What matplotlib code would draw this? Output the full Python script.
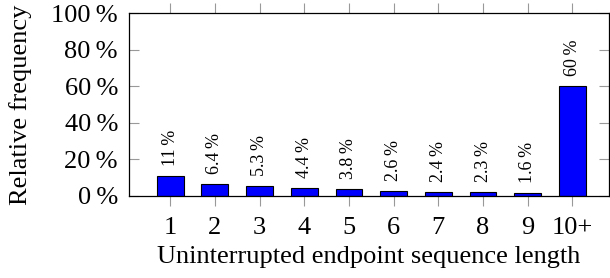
import matplotlib
matplotlib.use('Agg')
import matplotlib.pyplot as plt

plt.rcParams['font.family'] = ['Liberation Serif', 'DejaVu Serif']

categories = ['1', '2', '3', '4', '5', '6', '7', '8', '9', '10+']
freq = [11, 6.4, 5.3, 4.4, 3.8, 2.6, 2.4, 2.3, 1.6, 60]
freq_labels = ['11', '6.4', '5.3', '4.4', '3.8', '2.6', '2.4', '2.3', '1.6', '60']
yticks = [0, 20, 40, 60, 80, 100]

fig = plt.figure(figsize=(6.1, 2.78), dpi=100)
ax = fig.add_axes([0.2115, 0.295, 0.787, 0.658])

x = list(range(1, len(categories) + 1))
ax.bar(x, freq, width=0.6, color='#0000ff', edgecolor='black', linewidth=0.8)
for xi, v, lab in zip(x, freq, freq_labels):
    ax.text(xi, v + 5.5, lab + '\u2009%', rotation=90, ha='center', va='bottom',
            fontsize=13)

ax.set_xlim(0.08, 10.82)
ax.set_ylim(0, 100)
ax.set_xticks(x)
ax.set_xticklabels(categories, fontsize=19)
ax.set_yticks(yticks)
ax.set_yticklabels([f'{t}\u2009%' for t in yticks], fontsize=19)
ax.tick_params(axis='x', direction='out', length=7, color='#999999',
               top=True, bottom=True, pad=8)
ax.tick_params(axis='y', direction='in', length=7, color='#999999',
               left=True, right=True, pad=8)
for s in ax.spines.values():
    s.set_linewidth(0.9)

ax.set_xlabel('Uninterrupted endpoint sequence length', fontsize=19, labelpad=5)
ax.set_ylabel('Relative frequency', fontsize=19, labelpad=14)

fig.savefig('out.png', dpi=100)
